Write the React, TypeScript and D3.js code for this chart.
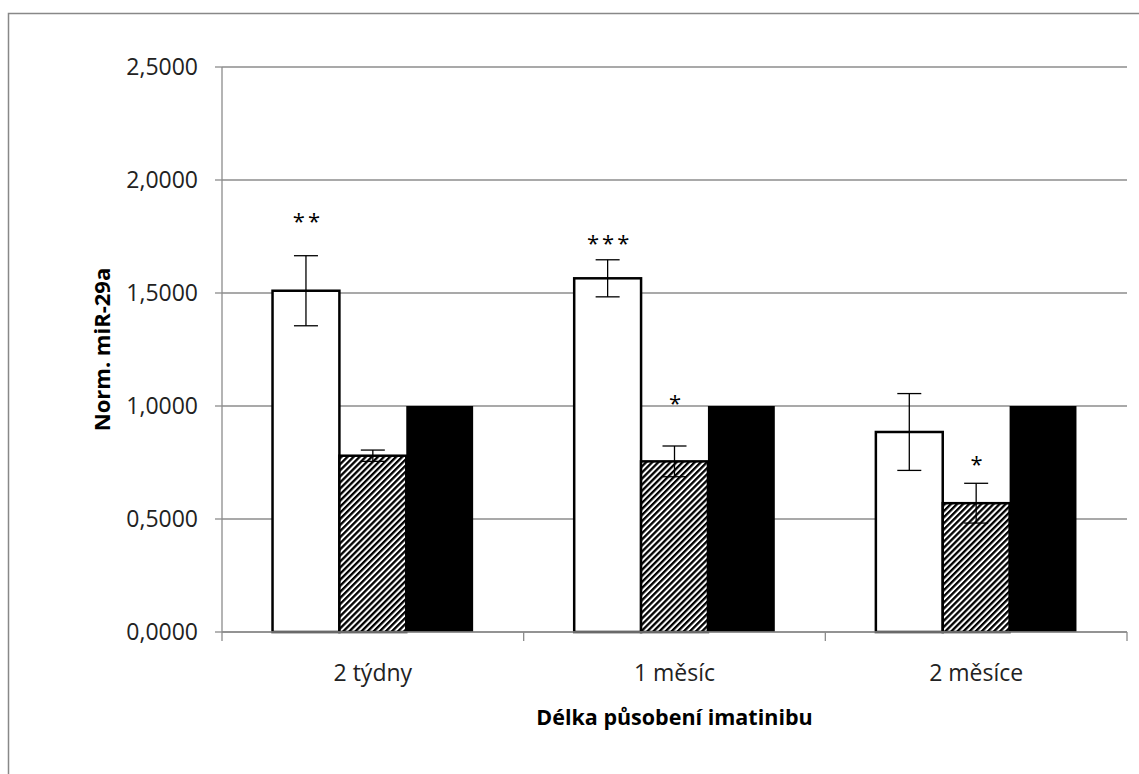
import * as React from "react";
import * as d3 from "d3";

const categories = ["2 týdny", "1 měsíc", "2 měsíce"];
const series = ["white", "hatch", "black"];
const whiteValues = [1.51, 1.565, 0.885];
const whiteErrors = [0.155, 0.082, 0.17];
const hatchValues = [0.78, 0.755, 0.57];
const hatchErrors = [0.025, 0.068, 0.088];
const blackValues = [1.0, 1.0, 1.0];
const yTicks = [0, 0.5, 1, 1.5, 2, 2.5];
// significance marks: [category, series, text, value level of the label]
const stars: [number, number, string, number][] = [
  [0, 0, "**", 1.855],
  [1, 0, "***", 1.757],
  [1, 1, "*", 1.05],
  [2, 1, "*", 0.78],
];

const font = "'Open Sans', 'Noto Sans', sans-serif";

export default function App() {
  const width = 1139;
  const height = 774;
  const left = 222, right = 1127, top = 67, bottom = 632;

  const y = d3.scaleLinear().domain([0, 2.5]).range([bottom, top]);
  const x0 = d3.scaleBand().domain(categories).range([left, right]);
  const groupW = x0.bandwidth() * 0.665;
  const x1 = d3.scaleBand().domain(series).range([0, groupW]);

  const vals = [whiteValues, hatchValues, blackValues];
  const errs = [whiteErrors, hatchErrors, null];
  const fmt = (v: number) => v.toFixed(4).replace(".", ",");
  const barX = (ci: number, si: number) =>
    (x0(categories[ci]) as number) + (x0.bandwidth() - groupW) / 2 + (x1(series[si]) as number);

  return (
    <svg width={width} height={height} style={{ position: "absolute", left: 0, top: 0 }}>
      <defs>
        <pattern id="hatch" width="4.3" height="4.3" patternUnits="userSpaceOnUse" patternTransform="rotate(45)">
          <rect width="4.3" height="4.3" fill="#fff" />
          <rect width="2.3" height="4.3" fill="#000" />
        </pattern>
      </defs>
      <rect x={0} y={0} width={width} height={height} fill="#fff" />
      <rect x={8.5} y={13.5} width={1200} height={900} fill="none" stroke="#888" strokeWidth={1.5} />

      {/* gridlines and y ticks */}
      {yTicks.map((t) => (
        <g key={t}>
          <line x1={left} x2={right} y1={y(t)} y2={y(t)} stroke="#8c8c8c" strokeWidth={1.3} />
          <line x1={left - 7} x2={left} y1={y(t)} y2={y(t)} stroke="#8c8c8c" strokeWidth={1.3} />
          <text x={left - 24} y={y(t)} dy="0.36em" textAnchor="end" fontFamily={font} fontSize={23} fill="#222">
            {fmt(t)}
          </text>
        </g>
      ))}
      <line x1={left} x2={left} y1={top} y2={bottom} stroke="#8c8c8c" strokeWidth={1.3} />

      {/* bars */}
      {categories.map((c, ci) =>
        series.map((s, si) => {
          const v = vals[si][ci];
          const bx = barX(ci, si);
          const bw = x1.bandwidth();
          const fill = s === "white" ? "#fff" : s === "hatch" ? "url(#hatch)" : "#000";
          return (
            <rect key={c + s} x={bx} y={y(v)} width={bw} height={y(0) - y(v)} fill={fill}
              stroke="#000" strokeWidth={s === "black" ? 0 : 2.5} />
          );
        })
      )}

      {/* x axis */}
      <line x1={left} x2={right} y1={bottom} y2={bottom} stroke="#8c8c8c" strokeWidth={1.3} />
      {[...categories.map((c) => x0(c) as number), right].map((xx, i) => (
        <line key={i} x1={xx} x2={xx} y1={bottom} y2={bottom + 9} stroke="#8c8c8c" strokeWidth={1.3} />
      ))}

      {/* error bars */}
      {categories.map((c, ci) =>
        [0, 1].map((si) => {
          const e = errs[si]![ci];
          const v = vals[si][ci];
          const cx = barX(ci, si) + x1.bandwidth() / 2;
          return (
            <g key={c + si} stroke="#000" strokeWidth={1.3}>
              <line x1={cx} x2={cx} y1={y(v + e)} y2={y(v - e)} />
              <line x1={cx - 12} x2={cx + 12} y1={y(v + e)} y2={y(v + e)} />
              <line x1={cx - 12} x2={cx + 12} y1={y(v - e)} y2={y(v - e)} />
            </g>
          );
        })
      )}

      {/* stars */}
      {stars.map(([ci, si, t, lvl], i) => {
        const cx = barX(ci, si) + x1.bandwidth() / 2 + 2;
        return (
          <text key={i} x={cx} y={y(lvl)} dy="0.75em" textAnchor="middle" fontFamily={font} fontSize={22}
            letterSpacing={3} fill="#000">
            {t}
          </text>
        );
      })}

      {categories.map((c) => (
        <text key={c} x={(x0(c) as number) + x0.bandwidth() / 2} y={681} textAnchor="middle"
          fontFamily={font} fontSize={23} fill="#222">
          {c}
        </text>
      ))}

      <text x={(left + right) / 2} y={725} textAnchor="middle" fontFamily={font} fontSize={21.5} fontWeight="bold" fill="#000">
        Délka působení imatinibu
      </text>
      <text transform={`translate(110,${(top + bottom) / 2}) rotate(-90)`} textAnchor="middle"
        fontFamily={font} fontSize={22} fontWeight="bold" fill="#000">
        Norm. miR-29a
      </text>
    </svg>
  );
}
